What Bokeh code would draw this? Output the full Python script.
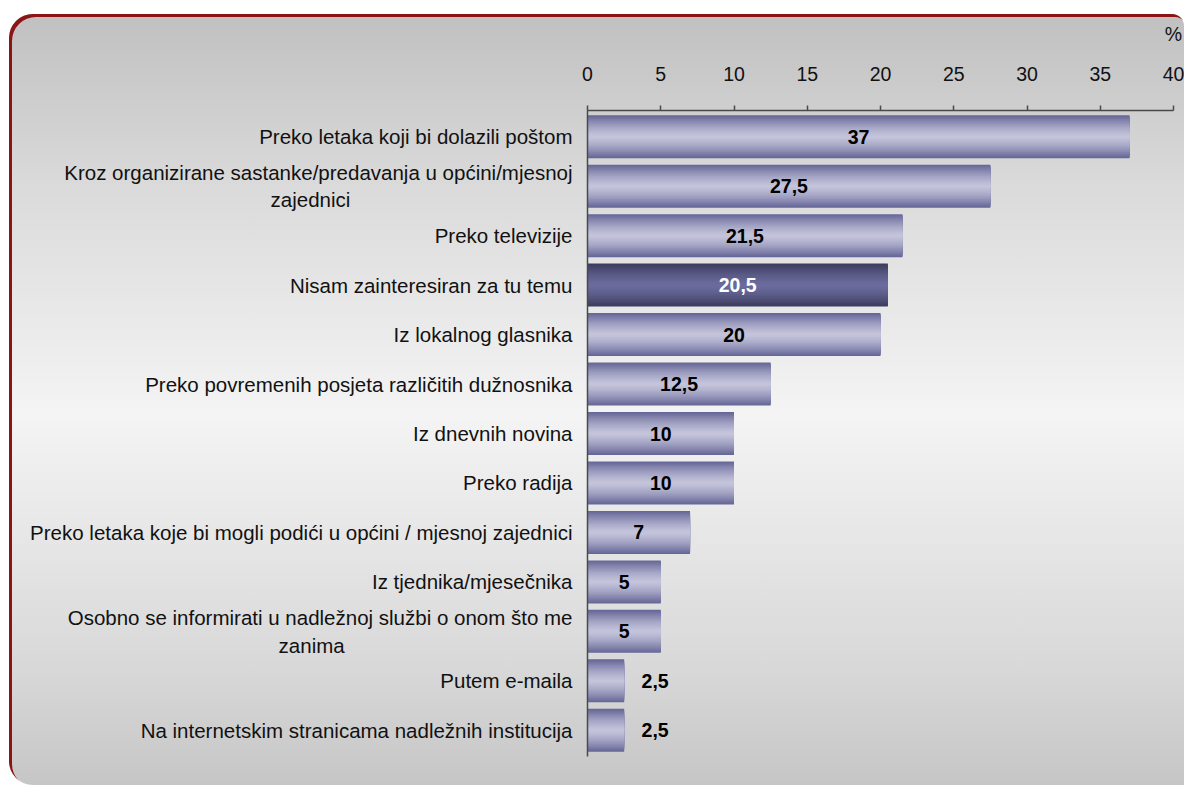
import numpy as np
from bokeh.plotting import figure
from bokeh.models import Range1d, FixedTicker
from bokeh.core.properties import value
from bokeh.embed import file_html
from bokeh.resources import INLINE

# ---------------- data ----------------
categories = [
    "Preko letaka koji bi dolazili poštom",
    "Kroz organizirane sastanke/predavanja u općini/mjesnoj\nzajednici",
    "Preko televizije",
    "Nisam zainteresiran za tu temu",
    "Iz lokalnog glasnika",
    "Preko povremenih posjeta različitih dužnosnika",
    "Iz dnevnih novina",
    "Preko radija",
    "Preko letaka koje bi mogli podići u općini / mjesnoj zajednici",
    "Iz tjednika/mjesečnika",
    "Osobno se informirati u nadležnoj službi o onom što me\nzanima",
    "Putem e-maila",
    "Na internetskim stranicama nadležnih institucija",
]
values = [37, 27.5, 21.5, 20.5, 20, 12.5, 10, 10, 7, 5, 5, 2.5, 2.5]
highlight = "Nisam zainteresiran za tu temu"
x_ticks = [0, 5, 10, 15, 20, 25, 30, 35, 40]
unit_label = "%"

# ---------------- styles ----------------
FONT = "Liberation Sans"
n = len(categories)
W, H = 1175, 771
pad = 0.53
bar_h = 0.87

p = figure(width=W, height=H, output_backend="svg", toolbar_location=None,
           x_range=Range1d(x_ticks[0], x_ticks[-1]),
           y_range=Range1d(n - 1 + pad, -pad),
           x_axis_location="above",
           min_border_left=578, min_border_right=11,
           min_border_top=96, min_border_bottom=29)

p.styles = {
    "background": "linear-gradient(180deg, #c0c0c0 0%, #dadada 22%, #f4f4f4 52%, #d8d8d8 85%, #c6c6c6 100%)",
    "border-radius": "24px 12px 0 24px",
    "box-shadow": "inset 3px 3px 0 0 #8b1414",
    "margin-left": "9px",
    "margin-top": "14px",
}
p.background_fill_alpha = 0
p.border_fill_alpha = 0
p.outline_line_color = None
p.grid.grid_line_color = None

# x axis (top)
xa = p.xaxis[0]
xa.ticker = FixedTicker(ticks=x_ticks)
xa.axis_line_color = "#4a4a4a"
xa.axis_line_width = 1.5
xa.major_tick_line_color = "#4a4a4a"
xa.major_tick_line_width = 1.5
xa.major_tick_out = 5
xa.major_tick_in = 0
xa.minor_tick_line_color = None
xa.major_label_text_font = FONT
xa.major_label_text_font_size = "19.5px"
xa.major_label_text_color = "#111111"
xa.major_label_standoff = 25

# unit "%" at the right end of the top axis
unit_done = False
for align_value in ("end", "right"):
    try:
        xa.axis_label_align = align_value
        unit_done = True
        break
    except Exception:
        pass
if unit_done:
    xa.axis_label = unit_label
    xa.axis_label_standoff = 19
    xa.axis_label_text_font = FONT
    xa.axis_label_text_font_size = "19.5px"
    xa.axis_label_text_font_style = "normal"
    xa.axis_label_text_color = "#111111"
else:
    p.title.text = unit_label
    p.title.align = "right"
    p.title.vertical_align = "top"
    p.title.offset = -11
    p.title.standoff = 26
    p.title.text_font = FONT
    p.title.text_font_size = "19.5px"
    p.title.text_font_style = "normal"
    p.title.text_color = "#111111"

# y axis (category labels). For two-line labels the second line is
# centred under the first (padding with no-break spaces).
LABEL_PX = 20.5
NBSP_W = 0.278 * LABEL_PX
def rough_width(s):
    narrow = set("ijlt ")
    wide = set("mwMW")
    w = 0.0
    for ch in s:
        if ch in narrow:
            w += 0.25
        elif ch in wide:
            w += 0.83
        elif ch in "rf/":
            w += 0.32
        else:
            w += 0.54
    return w * LABEL_PX

overrides = {}
for i, c in enumerate(categories):
    if "\n" in c:
        l1, l2 = c.split("\n")
        k = int(round(1.055 * (rough_width(l1) - rough_width(l2)) / 2 / NBSP_W))
        overrides[i] = l1 + "\n" + l2 + "\u00a0" * k
    else:
        overrides[i] = c

ya = p.yaxis[0]
ya.ticker = FixedTicker(ticks=list(range(n)))
ya.major_label_overrides = overrides
ya.axis_line_color = "#4a4a4a"
ya.axis_line_width = 1.5
ya.major_tick_line_color = None
ya.major_tick_out = 0
ya.major_tick_in = 0
ya.minor_tick_line_color = None
ya.major_label_text_font = FONT
ya.major_label_text_font_size = "%gpx" % LABEL_PX
ya.major_label_text_color = "#111111"
ya.major_label_standoff = 15

# ---------------- gradient bars (nested layers) ----------------
normal_edge = np.array([102, 102, 152])
normal_center = np.array([196, 196, 219])
hi_edge = np.array([60, 60, 94])
hi_center = np.array([108, 108, 158])

N = 22
ys, rights, heights, colors = [], [], [], []
for k in range(N):
    frac = 1 - k / N
    w = frac ** 1.4
    for i, (cat, v) in enumerate(zip(categories, values)):
        edge, center = (hi_edge, hi_center) if cat == highlight else (normal_edge, normal_center)
        c = center * (1 - w) + edge * w
        ys.append(i)
        rights.append(v)
        heights.append(bar_h * frac)
        colors.append("#%02x%02x%02x" % tuple(int(round(x)) for x in c))

p.hbar(y=ys, left=0, right=rights, height=heights,
       fill_color=colors, line_color=None)

# ---------------- value labels ----------------
def fmt(v):
    return ("%g" % v).replace(".", ",")

in_x, in_y, in_t, in_c = [], [], [], []
out_x, out_y, out_t = [], [], []
for i, (cat, v) in enumerate(zip(categories, values)):
    if v >= 4:
        in_x.append(v / 2); in_y.append(i); in_t.append(fmt(v))
        in_c.append("#ffffff" if cat == highlight else "#000000")
    else:
        out_x.append(v + 1.19); out_y.append(i); out_t.append(fmt(v))

p.text(x=in_x, y=in_y, text=in_t, text_color=in_c, text_align="center",
       text_baseline="middle", text_font=value(FONT), text_font_style="bold",
       text_font_size="19.5px")
p.text(x=out_x, y=out_y, text=out_t, text_color="#000000", text_align="left",
       text_baseline="middle", text_font=value(FONT), text_font_style="bold",
       text_font_size="19.5px")

open("out.html", "w").write(file_html(p, INLINE))
